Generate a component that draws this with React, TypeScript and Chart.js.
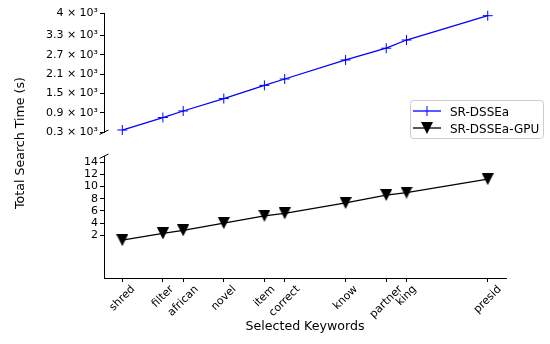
import React, { useEffect, useRef } from 'react';
import { Chart, registerables } from 'chart.js';

Chart.register(...registerables);

// ---- data ----
const keywords = ['shred', 'filter', 'african', 'novel', 'item', 'correct', 'know', 'partner', 'king', 'presid'];
const keywordPositions = [0, 2, 3, 5, 7, 8, 11, 13, 14, 18];
const srDsseaTimes = [362, 750, 953, 1340, 1750, 1948, 2539, 2905, 3160, 3916];
const srDsseaGpuTimes = [1.2, 2.3, 2.8, 4.0, 5.2, 5.6, 7.3, 8.6, 9.0, 11.2];
const topTicks = [300, 900, 1500, 2100, 2700, 3300, 4000];
const bottomTicks = [2, 4, 6, 8, 10, 12, 14];
const seriesNames = ['SR-DSSEa', 'SR-DSSEa-GPU'];
const xTitle = 'Selected Keywords';
const yTitle = 'Total Search Time (s)';

const FONT = 'DejaVu Sans';
const BLUE = '#0000ff';
const BLACK = '#000000';

function makeTriangle(size: number): HTMLCanvasElement {
  const c = document.createElement('canvas');
  c.width = size;
  c.height = size;
  const g = c.getContext('2d')!;
  g.fillStyle = BLACK;
  g.beginPath();
  g.moveTo(0, 0);
  g.lineTo(size, 0);
  g.lineTo(size / 2, size);
  g.closePath();
  g.fill();
  return c;
}

const fixWidth = (s: any) => {
  s.width = 104;
};

export default function App() {
  const ref = useRef<HTMLCanvasElement | null>(null);

  useEffect(() => {
    if (!ref.current) return;
    Chart.defaults.font.family = FONT;
    Chart.defaults.color = BLACK;
    const tri = makeTriangle(12);

    const overlay = {
      id: 'overlay',
      afterDraw(chart: any) {
        const ctx = chart.ctx as CanvasRenderingContext2D;
        const xs = chart.scales.x;
        const yTop = chart.scales.yTop;
        const yBot = chart.scales.yBot;
        const axisX = chart.chartArea.left;
        ctx.save();

        // y title
        ctx.save();
        ctx.fillStyle = BLACK;
        ctx.font = `12.6px "${FONT}"`;
        ctx.translate(24, 143);
        ctx.rotate(-Math.PI / 2);
        ctx.textAlign = 'center';
        ctx.textBaseline = 'alphabetic';
        ctx.fillText(yTitle, 0, 0);
        ctx.restore();

        // break marks
        ctx.strokeStyle = BLACK;
        ctx.lineWidth = 1;
        ctx.beginPath();
        ctx.moveTo(axisX - 4.5, yTop.bottom + 2.5);
        ctx.lineTo(axisX + 4.5, yTop.bottom - 2);
        ctx.moveTo(axisX - 4.5, yBot.top + 2.5);
        ctx.lineTo(axisX + 4.5, yBot.top - 2);
        ctx.stroke();

        // x tick labels (centered rotated boxes)
        ctx.font = `11px "${FONT}"`;
        ctx.fillStyle = BLACK;
        const h = 11 * 1.164;
        const topY = chart.chartArea.bottom + 5;
        keywords.forEach((label, i) => {
          const px = xs.getPixelForValue(keywordPositions[i]);
          const w = ctx.measureText(label).width;
          const d = (w + h) * Math.SQRT1_2;
          ctx.save();
          ctx.translate(px, topY + d / 2);
          ctx.rotate(-Math.PI / 4);
          ctx.textAlign = 'center';
          ctx.textBaseline = 'middle';
          ctx.fillText(label, 0, 0);
          ctx.restore();
        });

        // legend
        const lx = 410.5, ly = 100.5, lw = 133, lh = 38, r = 3;
        ctx.beginPath();
        ctx.moveTo(lx + r, ly);
        ctx.lineTo(lx + lw - r, ly);
        ctx.quadraticCurveTo(lx + lw, ly, lx + lw, ly + r);
        ctx.lineTo(lx + lw, ly + lh - r);
        ctx.quadraticCurveTo(lx + lw, ly + lh, lx + lw - r, ly + lh);
        ctx.lineTo(lx + r, ly + lh);
        ctx.quadraticCurveTo(lx, ly + lh, lx, ly + lh - r);
        ctx.lineTo(lx, ly + r);
        ctx.quadraticCurveTo(lx, ly, lx + r, ly);
        ctx.closePath();
        ctx.fillStyle = 'rgba(255,255,255,0.8)';
        ctx.fill();
        ctx.strokeStyle = '#cccccc';
        ctx.stroke();

        // entry 1
        ctx.strokeStyle = BLUE;
        ctx.lineWidth = 1.3;
        ctx.beginPath();
        ctx.moveTo(413, 111);
        ctx.lineTo(441, 111);
        ctx.stroke();
        ctx.lineWidth = 1;
        ctx.beginPath();
        ctx.moveTo(427, 106);
        ctx.lineTo(427, 116);
        ctx.stroke();
        // entry 2
        ctx.strokeStyle = BLACK;
        ctx.lineWidth = 1.3;
        ctx.beginPath();
        ctx.moveTo(413, 128);
        ctx.lineTo(441, 128);
        ctx.stroke();
        ctx.drawImage(tri, 427 - 6, 128 - 6);

        ctx.fillStyle = BLACK;
        ctx.font = `12px "${FONT}"`;
        ctx.textAlign = 'left';
        ctx.textBaseline = 'alphabetic';
        ctx.fillText(seriesNames[0], 450, 116);
        ctx.fillText(seriesNames[1], 450, 133);

        ctx.restore();
      },
    };

    const tickGrid = {
      display: true,
      drawOnChartArea: false,
      drawTicks: true,
      tickLength: 4,
      color: BLACK,
      lineWidth: 1,
    };
    const border = { display: true, color: BLACK, width: 1 };

    const chart = new Chart(ref.current, {
      type: 'line',
      data: {
        datasets: [
          {
            label: seriesNames[0],
            data: keywordPositions.map((x, i) => ({ x, y: srDsseaTimes[i] })),
            xAxisID: 'x',
            yAxisID: 'yTop',
            borderColor: BLUE,
            backgroundColor: BLUE,
            borderWidth: 1.3,
            pointStyle: 'cross',
            pointRadius: 5,
            pointBorderWidth: 1,
            pointBorderColor: BLUE,
            tension: 0,
            clip: false,
          } as any,
          {
            label: seriesNames[1],
            data: keywordPositions.map((x, i) => ({ x, y: srDsseaGpuTimes[i] })),
            xAxisID: 'x',
            yAxisID: 'yBot',
            borderColor: BLACK,
            backgroundColor: BLACK,
            borderWidth: 1.3,
            pointStyle: tri,
            pointRadius: 6,
            tension: 0,
            clip: false,
          } as any,
        ],
      },
      options: {
        responsive: false,
        animation: false,
        events: [],
        layout: { padding: { top: 13, right: 44, left: 0, bottom: 0 } },
        plugins: {
          legend: { display: false },
          tooltip: { enabled: false },
        },
        scales: {
          x: {
            type: 'linear',
            position: 'bottom',
            min: -0.9,
            max: 18.9,
            afterBuildTicks: (s: any) => {
              s.ticks = keywordPositions.map((v) => ({ value: v }));
            },
            ticks: { display: false, autoSkip: false },
            grid: tickGrid,
            border,
            title: {
              display: true,
              text: xTitle,
              color: BLACK,
              font: { size: 12.6, family: FONT },
              padding: { top: 0, bottom: 10 },
            },
            afterFit: (s: any) => {
              s.height = 66;
            },
          },
          yBot: {
            type: 'linear',
            position: 'left',
            stack: 'v',
            stackWeight: 122,
            weight: 1,
            min: -5,
            max: 15,
            afterBuildTicks: (s: any) => {
              s.ticks = bottomTicks.map((v) => ({ value: v }));
            },
            ticks: {
              color: BLACK,
              padding: 2,
              autoSkip: false,
              font: { size: 11, family: FONT },
              callback: (v: any) => String(v),
            },
            grid: tickGrid,
            border,
            afterFit: fixWidth,
          },
          yGap: {
            type: 'linear',
            position: 'left',
            stack: 'v',
            stackWeight: 24,
            weight: 2,
            ticks: { display: false },
            grid: { display: false },
            border: { display: false },
            afterFit: fixWidth,
          },
          yTop: {
            type: 'linear',
            position: 'left',
            stack: 'v',
            stackWeight: 119,
            weight: 3,
            min: 300,
            max: 4000,
            afterBuildTicks: (s: any) => {
              s.ticks = topTicks.map((v) => ({ value: v }));
            },
            ticks: {
              color: BLACK,
              padding: 2,
              autoSkip: false,
              font: { size: 11, family: FONT },
              callback: (v: any) => `${Number(v) / 1000} × 10³`,
            },
            grid: tickGrid,
            border,
            afterFit: fixWidth,
          },
        } as any,
      },
      plugins: [overlay],
    });

    return () => chart.destroy();
  }, []);

  return (
    <div style={{ position: 'absolute', left: 0, top: 0, width: 550, height: 344, background: '#fff' }}>
      <canvas ref={ref} width={550} height={344} style={{ display: 'block', width: 550, height: 344 }} />
    </div>
  );
}
